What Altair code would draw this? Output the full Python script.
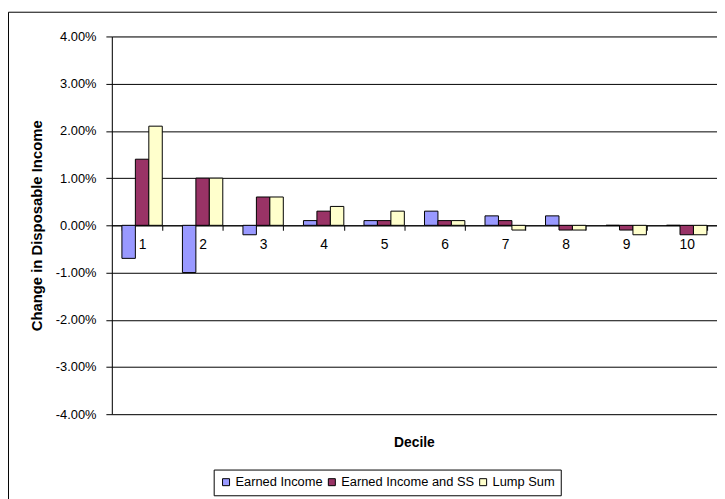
import altair as alt
import pandas as pd

deciles = [str(i) for i in range(1, 11)]
series = ["Earned Income", "Earned Income and SS", "Lump Sum"]
earned_income = [-0.007, -0.010, -0.002, 0.001, 0.001, 0.003, 0.002, 0.002, 0.000, 0.000]
earned_income_ss = [0.014, 0.010, 0.006, 0.003, 0.001, 0.001, 0.001, -0.001, -0.001, -0.002]
lump_sum = [0.021, 0.010, 0.006, 0.004, 0.003, 0.001, -0.001, -0.001, -0.002, -0.002]
colors = ["#9999FF", "#993366", "#FFFFCC"]
y_ticks = [-0.04, -0.03, -0.02, -0.01, 0.0, 0.01, 0.02, 0.03, 0.04]

rows = []
for name, vals in zip(series, [earned_income, earned_income_ss, lump_sum]):
    for d, v in zip(deciles, vals):
        rows.append({"Decile": d, "Series": name, "Value": v})
df = pd.DataFrame(rows)

W, H = 612, 382
FONT = "Liberation Sans"

frame = alt.Chart(pd.DataFrame({"k": [0]})).mark_rect(
    fill="transparent", stroke="black", strokeWidth=1, clip=False
).encode(
    x=alt.value(-104.5), x2=alt.value(W + 100),
    y=alt.value(-24.5), y2=alt.value(H + 200),
)

bars = alt.Chart(df).mark_bar(stroke="black", strokeWidth=1).encode(
    x=alt.X(
        "Decile:N", sort=deciles,
        scale=alt.Scale(paddingInner=0.333, paddingOuter=0.1667),
        axis=alt.Axis(
            title=None, offset=-(H / 2), labelAngle=0, labelFontSize=14,
            labelFont=FONT, labelColor="black", labelPadding=7,
            tickBand="extent", tickSize=5, tickColor="black",
            domainColor="black", domainWidth=1,
        ),
    ),
    xOffset=alt.XOffset("Series:N", sort=series),
    y=alt.Y(
        "Value:Q",
        scale=alt.Scale(domain=[-0.04, 0.04], nice=False, zero=False),
        axis=alt.Axis(
            values=y_ticks,
            labelExpr="replace(format(datum.value, '.2%'), '\u2212', '-')",
            title="Change in Disposable Income", titleFont=FONT,
            titleFontSize=15, titleFontWeight="bold", titleColor="black",
            titlePadding=11, labelFont=FONT, labelFontSize=13,
            labelColor="black", labelPadding=10, tickSize=6,
            tickColor="black", domainColor="black", grid=True,
            gridColor="black", gridWidth=1,
        ),
    ),
    color=alt.Color(
        "Series:N", sort=series,
        scale=alt.Scale(domain=series, range=colors),
        legend=alt.Legend(
            title=None, orient="none", legendX=103, legendY=438,
            direction="horizontal", columns=3, strokeColor="black",
            fillColor="white", padding=6, symbolType="square",
            symbolSize=50, symbolStrokeColor="black", symbolStrokeWidth=1,
            labelFont=FONT, labelFontSize=13, labelColor="black",
            columnPadding=2, labelOffset=3,
        ),
    ),
)

decile_title = alt.Chart(pd.DataFrame({"t": ["Decile"]})).mark_text(
    font=FONT, fontSize=14, fontWeight="bold", color="black",
    align="center", baseline="middle",
).encode(text="t:N", x=alt.value(W / 2), y=alt.value(H + 29))

chart = alt.layer(frame, bars, decile_title).properties(
    width=W, height=H,
    autosize=alt.AutoSizeParams(type="none"),
    padding={"left": 105, "top": 26, "right": 0, "bottom": 83},
).configure_view(stroke=None).configure(background="white")

chart.save("out.html", embed_options={"renderer": "svg", "actions": False})
